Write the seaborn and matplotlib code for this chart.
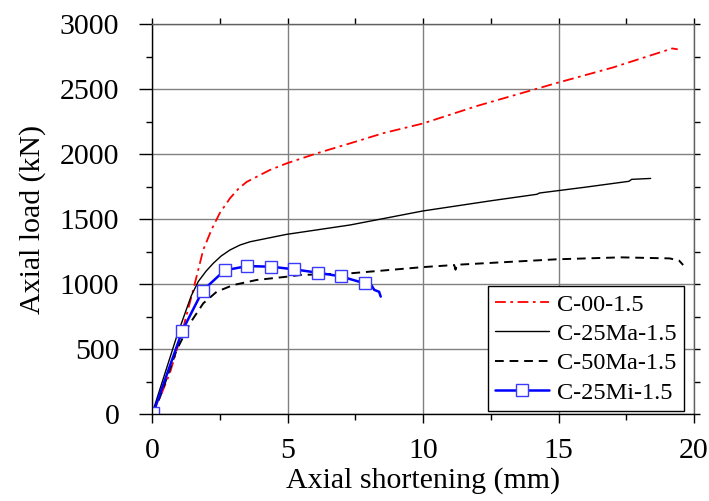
import matplotlib
matplotlib.use("Agg")
import matplotlib.pyplot as plt
import seaborn as sns
import pandas as pd
from matplotlib.ticker import MultipleLocator

# ---- data ----
c00_x = [0, 0.3, 0.66, 1.1, 1.52, 1.89, 2.2, 2.5, 2.88, 3.2, 3.49, 4.35, 4.97, 6.08, 7.31, 8.53, 10.0, 12.0, 15.0, 17.0, 19.2, 19.4]
c00_y = [0, 130, 315, 622, 954, 1262, 1420, 1545, 1660, 1735, 1785, 1877, 1928, 2005, 2082, 2160, 2235, 2370, 2550, 2665, 2812, 2805]

c25ma_x = [0, 0.91, 1.45, 1.71, 2.0, 2.26, 2.55, 2.88, 3.25, 3.62, 4.97, 5.46, 7.31, 10.0, 12.5, 14.2, 14.3, 16.0, 17.6, 17.7, 18.4]
c25ma_y = [0, 595, 910, 1020, 1100, 1159, 1215, 1262, 1300, 1325, 1382, 1397, 1454, 1562, 1640, 1690, 1700, 1745, 1790, 1805, 1812]

c50ma_x = [0, 0.3, 0.91, 1.4, 1.89, 2.39, 3.0, 3.86, 4.97, 5.46, 7.31, 10.0, 11.15, 11.2, 11.25, 14.93, 17.3, 19.1, 19.45, 19.6]
c50ma_y = [0, 133, 492, 697, 851, 941, 992, 1031, 1056, 1069, 1082, 1130, 1146, 1110, 1148, 1190, 1205, 1197, 1180, 1146]

c25mi_x = [0.05, 1.12, 1.87, 2.68, 3.52, 4.40, 5.24, 6.11, 6.96, 7.85, 8.1, 8.2, 8.38, 8.44]
c25mi_y = [10, 641, 949, 1105, 1138, 1133, 1113, 1087, 1059, 1005, 990, 955, 940, 903]
c25mi_marked = 10  # first points carry markers

labels = ["C-00-1.5", "C-25Ma-1.5", "C-50Ma-1.5", "C-25Mi-1.5"]
x_ticks = [0, 5, 10, 15, 20]
y_ticks = [0, 500, 1000, 1500, 2000, 2500, 3000]

sns.set_theme(style="white")
plt.rcParams['font.family'] = ['Liberation Serif', 'DejaVu Serif']
plt.rcParams['text.color'] = 'black'
plt.rcParams['axes.labelcolor'] = 'black'
plt.rcParams['xtick.color'] = 'black'
plt.rcParams['ytick.color'] = 'black'

fig = plt.figure(figsize=(7.09, 5.01), dpi=100)
ax = fig.add_axes([152/709, 1-414/501, (694-152)/709, (414-24)/501])

def df(x, y):
    return pd.DataFrame({"x": x, "y": y})

sns.lineplot(data=df(c00_x, c00_y), x="x", y="y", ax=ax, sort=False, estimator=None,
             color="red", linewidth=1.3, linestyle=(0, (6, 2.5, 1.5, 2.5)), label=labels[0])
sns.lineplot(data=df(c25ma_x, c25ma_y), x="x", y="y", ax=ax, sort=False, estimator=None,
             color="black", linewidth=1.0, linestyle="-", label=labels[1])
sns.lineplot(data=df(c50ma_x, c50ma_y), x="x", y="y", ax=ax, sort=False, estimator=None,
             color="black", linewidth=1.4, linestyle=(0, (4.5, 3)), label=labels[2])
sns.lineplot(data=df(c25mi_x, c25mi_y), x="x", y="y", ax=ax, sort=False, estimator=None,
             color="#0000ff", linewidth=1.8, marker="s", markersize=8,
             markerfacecolor="white", markeredgecolor="#3a3aff", markeredgewidth=1.0,
             markevery=list(range(c25mi_marked)), label=labels[3])

ax.set_xlim(0, 20)
ax.set_ylim(0, 3000)
ax.set_xticks(x_ticks)
ax.set_yticks(y_ticks)
ax.xaxis.set_minor_locator(MultipleLocator(2.5))
ax.yaxis.set_minor_locator(MultipleLocator(250))

ax.grid(True, which="major", color="#808080", linewidth=1.0)
ax.set_axisbelow(True)

for s in ["left", "bottom"]:
    ax.spines[s].set_color("black")
    ax.spines[s].set_linewidth(1.0)
for s in ["top", "right"]:
    ax.spines[s].set_color("#606060")
    ax.spines[s].set_linewidth(1.0)

ax.tick_params(axis="x", which="major", direction="out", length=6.5, width=1.0,
               color="black", labelcolor="black", labelsize=21.5, pad=11, bottom=True, top=True)
ax.tick_params(axis="y", which="major", direction="out", length=9.5, width=1.0,
               color="black", labelcolor="black", labelsize=21.5, pad=14, left=True, right=True)
ax.tick_params(axis="both", which="minor", direction="out", length=4, width=1.0,
               color="black", bottom=True, left=True, top=True, right=True)
ax.xaxis.set_tick_params(which="both", labeltop=False)
ax.yaxis.set_tick_params(which="both", labelright=False)
for t in ax.xaxis.get_major_ticks() + ax.xaxis.get_minor_ticks():
    t.tick2line.set_markersize(4)
    t.tick2line.set_color("#606060")
for t in ax.yaxis.get_major_ticks() + ax.yaxis.get_minor_ticks():
    t.tick2line.set_markersize(4)
    t.tick2line.set_color("#606060")

ax.set_xlabel("Axial shortening (mm)", fontsize=21.5, labelpad=2, color="black")
ax.set_ylabel("Axial load (kN)", fontsize=21.5, labelpad=10, color="black")

leg = ax.legend(loc="lower right", bbox_to_anchor=(0.982, 0.008), fontsize=17.5,
                frameon=True, fancybox=False, edgecolor="black", framealpha=1,
                handlelength=2.2, handletextpad=0.35, borderpad=0.3, labelspacing=0.3,
                borderaxespad=0)
leg.get_frame().set_linewidth(1.0)
for txt in leg.get_texts():
    txt.set_color("black")

fig.savefig("out.png", dpi=100)
